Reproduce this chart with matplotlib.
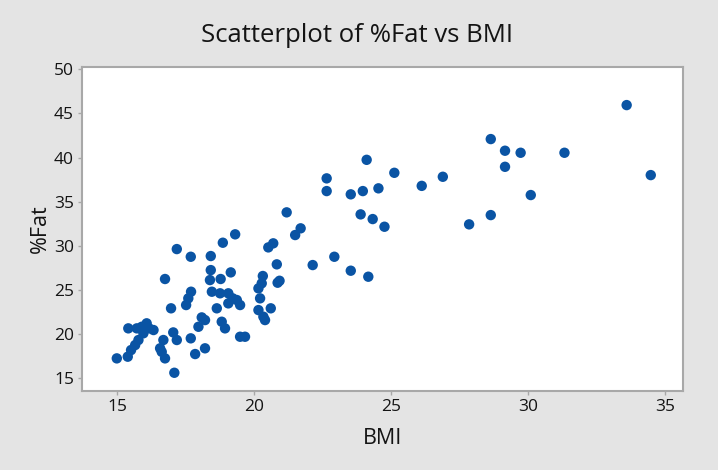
import matplotlib
matplotlib.use("Agg")
import matplotlib.pyplot as plt

bmi = [14.99, 15.39, 15.51, 15.66, 15.78, 15.41, 15.72, 15.90, 16.08, 16.17,
       16.33, 15.96, 16.69, 16.57, 16.63, 16.75, 17.05, 17.18, 16.97, 17.09,
       19.31, 18.86, 17.18, 17.69, 18.42, 18.42, 19.15, 18.39, 18.78, 16.75,
       17.70, 17.60, 17.52, 18.46, 18.76, 19.06, 19.22, 19.06, 19.49, 18.64,
       18.09, 18.21, 17.97, 18.82, 18.94, 19.49, 19.67, 17.69, 18.21, 17.85,
       20.70, 20.52, 20.83, 20.86, 20.32, 20.28, 20.16, 20.22, 20.16, 20.34,
       20.61, 20.40, 20.93, 19.37,
       24.11, 25.12, 22.65, 22.65, 23.53, 23.97, 24.54, 26.12, 21.19, 23.89,
       24.33, 24.76, 21.70, 21.50, 22.93, 22.14, 23.53, 24.17,
       33.60, 34.48, 28.64, 29.16, 29.73, 31.33, 29.16, 30.10, 28.64, 27.85, 26.89]
fat = [17.26, 17.45, 18.20, 18.77, 19.34, 20.66, 20.66, 20.84, 21.23, 20.66,
       20.47, 20.10, 19.34, 18.40, 18.00, 17.26, 20.20, 19.34, 22.93, 15.63,
       31.31, 30.36, 29.64, 28.77, 28.85, 27.26, 27.00, 26.13, 26.25, 26.25,
       24.81, 24.06, 23.30, 24.81, 24.63, 24.63, 24.06, 23.49, 23.30, 22.93,
       21.90, 21.60, 20.84, 21.41, 20.66, 19.71, 19.71, 19.53, 18.40, 17.75,
       30.29, 29.83, 27.91, 25.83, 26.59, 25.76, 25.19, 24.06, 22.73, 21.98,
       22.93, 21.60, 26.05, 23.87,
       39.75, 38.28, 37.65, 36.21, 35.84, 36.21, 36.52, 36.80, 33.80, 33.57,
       33.04, 32.17, 31.99, 31.23, 28.77, 27.83, 27.19, 26.51,
       45.95, 38.02, 42.10, 40.78, 40.55, 40.55, 38.96, 35.76, 33.49, 32.44, 37.83]

xticks = [15, 20, 25, 30, 35]
yticks = [15, 20, 25, 30, 35, 40, 45, 50]

plt.rcParams['font.family'] = ['Open Sans', 'DejaVu Sans']
bg = '#e4e4e4'
fig = plt.figure(figsize=(7.18, 4.70), dpi=100, facecolor=bg)
ax = fig.add_axes([0.1146, 0.168, 0.951 - 0.1146, 0.8568 - 0.168])
ax.set_facecolor('white')
ax.scatter(bmi, fat, s=56, color='#0a54a4', edgecolors='none', zorder=3)
ax.set_xlim(13.73, 35.65)
ax.set_ylim(13.56, 50.23)
ax.set_xticks(xticks)
ax.set_yticks(yticks)
for sp in ax.spines.values():
    sp.set_color('#a8a8a8')
    sp.set_linewidth(1.5)
ax.tick_params(axis='both', length=3, width=1, color='#a8a8a8', labelsize=12.5,
               labelcolor='#141414', pad=3)
ax.set_xlabel('BMI', fontsize=15.5, color='#141414', labelpad=9)
ax.set_ylabel('%Fat', fontsize=15.5, color='#141414', labelpad=2)
fig.text(0.497, 0.924, 'Scatterplot of %Fat vs BMI', ha='center', va='center',
         fontsize=18.5, color='#141414')
fig.savefig('out.png', dpi=100, facecolor=bg)
